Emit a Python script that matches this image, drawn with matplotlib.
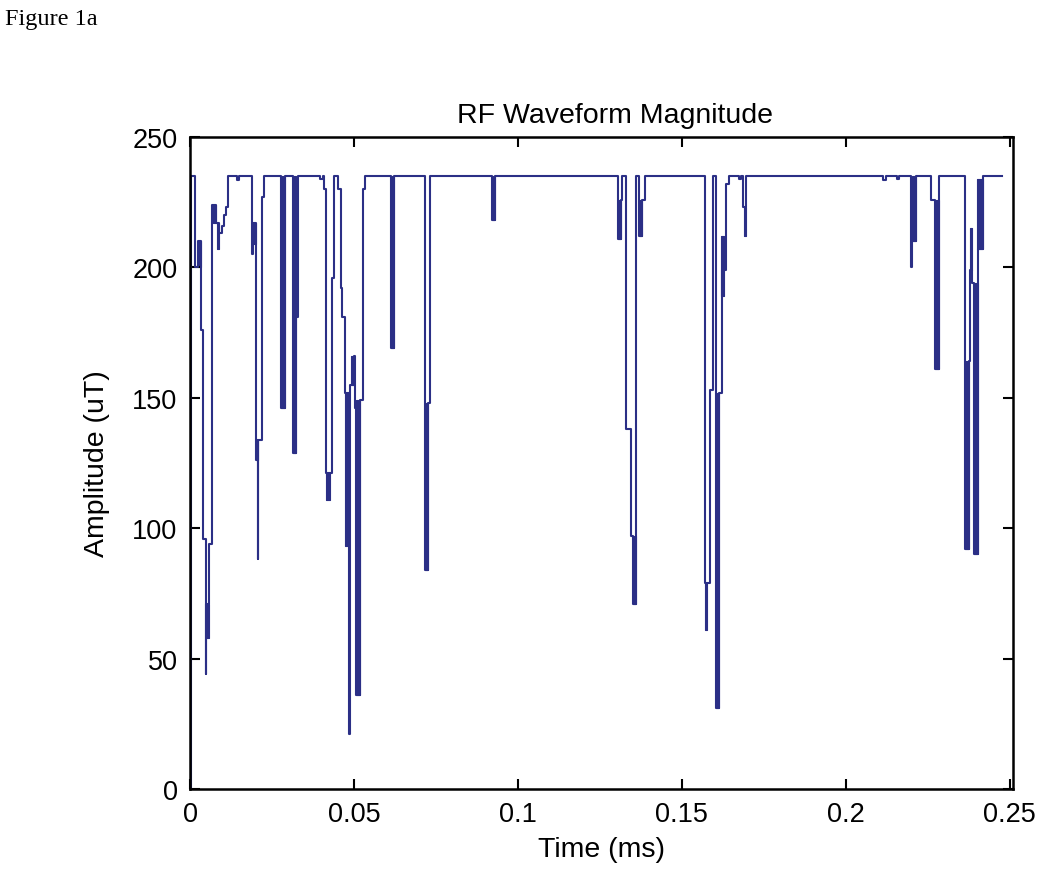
import matplotlib
matplotlib.use("Agg")
import matplotlib.pyplot as plt

# step waveform: value V_KNOTS[i] holds from T_KNOTS[i] until T_KNOTS[i+1]  (time in ms, amplitude in uT)
T_KNOTS = [
    0.0000, 0.0003, 0.0015, 0.0025, 0.0034, 0.0041, 0.0048, 0.0050, 0.0058, 0.0068,
    0.0078, 0.0089, 0.0098, 0.0105, 0.0111, 0.0117, 0.0142, 0.0149,
    0.0188, 0.0191, 0.0200, 0.0204, 0.0206, 0.0208, 0.0219, 0.0225,
    0.0277, 0.0290, 0.0313, 0.0323, 0.0330,
    0.0396, 0.0406, 0.0409, 0.0415, 0.0427, 0.0433, 0.0439,
    0.0452, 0.0459, 0.0465, 0.0473, 0.0486, 0.0489, 0.0500, 0.0504, 0.0506, 0.0518, 0.0527, 0.0534,
    0.0612, 0.0622, 0.0718, 0.0727, 0.0732, 0.0920, 0.0930,
    0.1305, 0.1313, 0.1319, 0.1329, 0.1344, 0.1350, 0.1360, 0.1370, 0.1378, 0.1388,
    0.1570, 0.1577, 0.1585, 0.1594, 0.1604, 0.1614, 0.1621, 0.1628, 0.1636, 0.1644,
    0.1675, 0.1680, 0.1687, 0.1697,
    0.2113, 0.2124, 0.2157, 0.2162, 0.2200, 0.2202, 0.2213, 0.2261, 0.2271, 0.2285,
    0.2363, 0.2376, 0.2380, 0.2386, 0.2390, 0.2403, 0.2417, 0.2475,
]
V_KNOTS = [
    0, 235, 200, 210, 176, 96, 44, 71, 94, 224,
    217, 213, 216, 220, 223, 235, 233.5, 235,
    205, 217, 126, 134, 88, 134, 227, 235,
    146, 235, 129, 181, 235,
    234, 235, 230, 121, 121, 196, 235,
    230, 192, 181, 152, 21, 155, 166, 146, 36, 149, 230, 235,
    169, 235, 84, 148, 235, 218, 235,
    211, 226, 235, 138, 97, 71, 235, 212, 226, 235,
    79, 79, 153, 235, 31, 152, 199, 199, 232, 235,
    234, 235, 223, 235,
    233.5, 235, 234, 235, 200, 210, 235, 226, 161, 235,
    92, 164, 199, 194, 90, 207, 235, 235,
]

# stretches where the waveform toggles too fast to resolve -> drawn as solid bars
BAR_START = [0.0025, 0.0050, 0.0070, 0.0081, 0.0191, 0.0200, 0.0277, 0.0313, 0.0415,
             0.0473, 0.0492, 0.0506, 0.0612, 0.0718, 0.0920, 0.1305, 0.1350, 0.1370,
             0.1570, 0.1604, 0.1619, 0.1690, 0.2203, 0.2271, 0.2363, 0.2380, 0.2390, 0.2399]
BAR_END = [0.0034, 0.0058, 0.0078, 0.0089, 0.0200, 0.0206, 0.0290, 0.0323, 0.0427,
           0.0486, 0.0500, 0.0518, 0.0622, 0.0727, 0.0930, 0.1313, 0.1360, 0.1378,
           0.1577, 0.1614, 0.1628, 0.1697, 0.2213, 0.2285, 0.2376, 0.2386, 0.2403, 0.2417]
BAR_LO = [200, 58, 217, 207, 209, 126, 146, 129, 111,
          93, 155, 36, 169, 84, 218, 211, 71, 212,
          61, 31, 189, 212, 210, 161, 92, 199, 90, 207]
BAR_HI = [210, 71, 224, 217, 217, 134, 235, 235, 121,
          152, 166, 149, 235, 148, 235, 226, 97, 226,
          79, 152, 212, 223, 235, 226, 164, 215, 194, 234]

X_TICKS = [0, 0.05, 0.1, 0.15, 0.2, 0.25]
X_TICKLABELS = ["0", "0.05", "0.1", "0.15", "0.2", "0.25"]
Y_TICKS = [0, 50, 100, 150, 200, 250]

LINE_COLOR = "#2b2f86"

plt.rcParams["font.family"] = ["Liberation Sans", "DejaVu Sans"]

fig = plt.figure(figsize=(10.5, 8.78), dpi=100)
ax = fig.add_axes([190 / 1050, 88 / 878, 823 / 1050, 652 / 878])

ax.plot(T_KNOTS, V_KNOTS, drawstyle="steps-post", color=LINE_COLOR, linewidth=1.5)
for t0, t1, lo, hi in zip(BAR_START, BAR_END, BAR_LO, BAR_HI):
    ax.fill_between([t0, t1], lo, hi, color=LINE_COLOR, linewidth=0.8, edgecolor=LINE_COLOR)

ax.set_xlim(0, 0.251)
ax.set_ylim(0, 250)
ax.set_xticks(X_TICKS)
ax.set_xticklabels(X_TICKLABELS)
ax.set_yticks(Y_TICKS)

ax.tick_params(direction="in", length=7, width=1.5, labelsize=19.5, pad=9,
               top=True, right=True, colors="black")
for sp in ax.spines.values():
    sp.set_linewidth(1.8)

ax.set_title("RF Waveform Magnitude", fontsize=20.5, pad=11, x=0.517)
ax.set_xlabel("Time (ms)", fontsize=20.5, labelpad=6)
ax.set_ylabel("Amplitude (uT)", fontsize=20.5, labelpad=16)

fig.text(5 / 1050, 1 - 19 / 878, "Figure 1a", fontsize=17.5, va="center", ha="left",
         family=["Liberation Serif", "DejaVu Serif"])

fig.savefig("out.png", dpi=100)
